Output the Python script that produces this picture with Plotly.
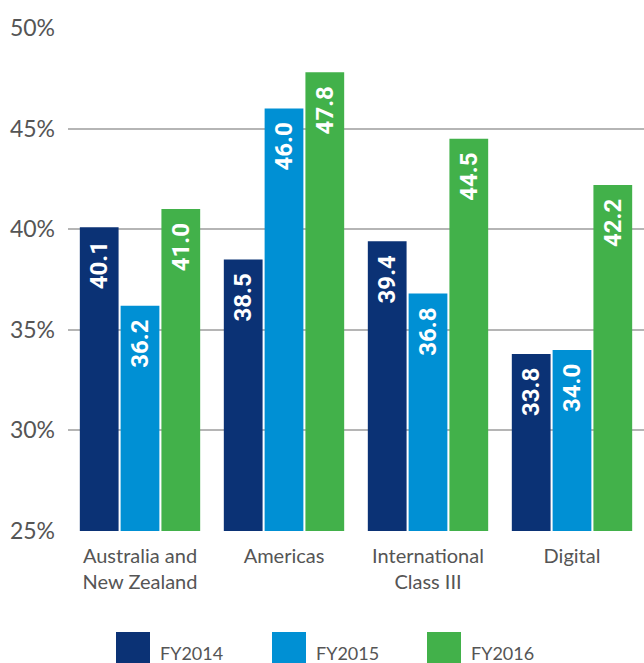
import plotly.graph_objects as go

categories = ["Australia and<br>New Zealand", "Americas", "International<br>Class III", "Digital"]
series_names = ["FY2014", "FY2015", "FY2016"]
fy2014 = [40.1, 38.5, 39.4, 33.8]
fy2015 = [36.2, 46.0, 36.8, 34.0]
fy2016 = [41.0, 47.8, 44.5, 42.2]
colors = ["#0B3275", "#0090D4", "#42B14A"]
y_ticks = [25, 30, 35, 40, 45, 50]

fig = go.Figure()
for name, vals, col in zip(series_names, [fy2014, fy2015, fy2016], colors):
    fig.add_trace(go.Bar(
        x=categories, y=vals, name=name,
        marker=dict(color=col, line=dict(width=0)),
        text=[f"{v:.1f}\u00a0\u2009" for v in vals],
        textposition="inside", insidetextanchor="end", textangle=-90,
        textfont=dict(family="Roboto, sans-serif", size=24, color="white", weight="bold"),
        showlegend=False, hoverinfo="skip",
    ))

W, H = 644, 663
l, r, t, b = 68, 0, 28, 132
pw, ph = W - l - r, H - t - b
def px(xp):
    return (xp - l) / pw
def py(yp):
    return (H - b - yp) / ph

leg_x = [116, 272, 427]
shapes = []
annotations = []
for name, col, x0 in zip(series_names, colors, leg_x):
    shapes.append(dict(type="rect", xref="paper", yref="paper",
                       x0=px(x0), x1=px(x0 + 34), y0=py(667), y1=py(632),
                       fillcolor=col, line=dict(width=0)))
    annotations.append(dict(xref="paper", yref="paper", x=px(x0 + 42), y=py(653),
                            text=name, showarrow=False, xanchor="left", yanchor="middle",
                            font=dict(family="Lato, sans-serif", size=18, color="#555555")))

label_font = dict(family="Lato, sans-serif", color="#555555")
fig.update_layout(
    width=W, height=H,
    margin=dict(l=l, r=r, t=t, b=b),
    plot_bgcolor="white", paper_bgcolor="white",
    barmode="group", bargap=0.15, bargroupgap=0.05,
    shapes=shapes, annotations=annotations,
    xaxis=dict(tickfont=dict(size=20, **label_font),
               showgrid=False, showline=False, ticks="", ticklabelstandoff=11),
    yaxis=dict(range=[25, 50], tickvals=y_ticks, ticktext=[f"{v}%" for v in y_ticks],
               tickfont=dict(size=23, **label_font),
               showgrid=True, gridcolor="#B5B5B5", gridwidth=2, zeroline=False,
               showline=False, ticks="", ticklabelstandoff=12),
)
fig.write_html("out.html", config={"displayModeBar": False},
               post_script="document.body.style.margin='0';document.body.style.overflow='hidden';")
